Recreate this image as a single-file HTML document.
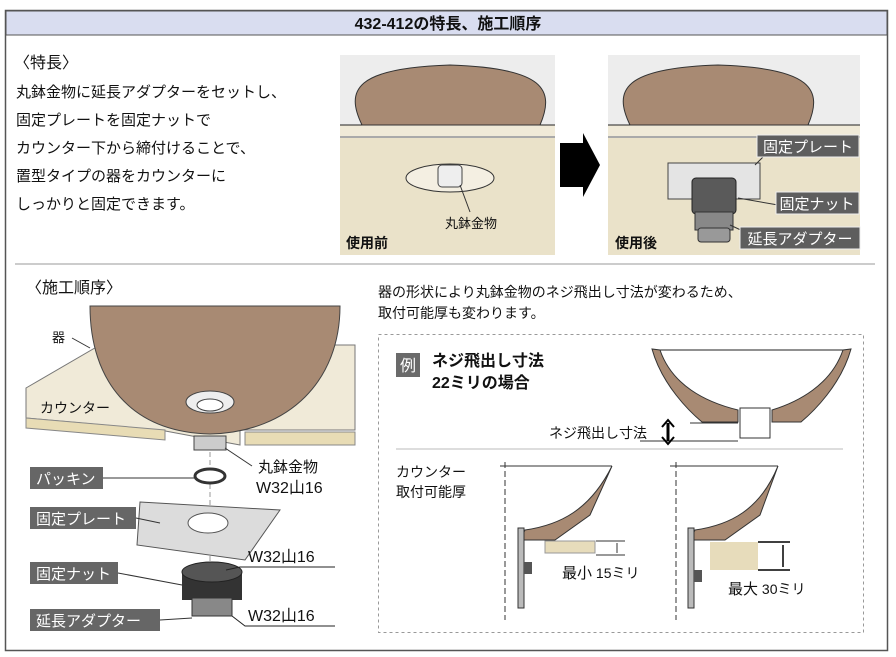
<!DOCTYPE html>
<html><head><meta charset="utf-8"><style>
html,body{margin:0;padding:0;background:#fff}
svg{display:block}
text{font-family:"Liberation Sans","Noto Sans CJK JP",sans-serif}
</style></head><body>
<svg width="896" height="657" viewBox="0 0 896 657" xmlns="http://www.w3.org/2000/svg">
<rect x="5.5" y="10.5" width="882" height="640" fill="#fff" stroke="#555" stroke-width="1.5"/>
<rect x="6" y="11" width="881" height="24" fill="#d9ddf0" stroke="#555" stroke-width="1"/>
<text x="448" y="29" font-size="16" font-weight="bold" text-anchor="middle" fill="#111">432-412の特長、施工順序</text>

<g font-size="15" fill="#111">
<text x="14" y="68" font-size="16">〈特長〉</text>
<text x="16" y="97">丸鉢金物に延長アダプターをセットし、</text>
<text x="16" y="125">固定プレートを固定ナットで</text>
<text x="16" y="153">カウンター下から締付けることで、</text>
<text x="16" y="181">置型タイプの器をカウンターに</text>
<text x="16" y="209">しっかりと固定できます。</text>
</g>

<rect x="340" y="55" width="215" height="70" fill="#ededed"/>
<rect x="340" y="125" width="215" height="130" fill="#eae2c9"/>
<rect x="340" y="125" width="215" height="12" fill="#f0ead8"/>
<line x1="340" y1="125" x2="555" y2="125" stroke="#222"/>
<line x1="340" y1="137" x2="555" y2="137" stroke="#aaa" stroke-width="2"/>
<path d="M362 125 C345 90 355 68 450 65 C545 68 555 90 540 125 Z" fill="#a88a73" stroke="#333"/>
<ellipse cx="450" cy="178" rx="44" ry="14" fill="#f4efe2" stroke="#333"/>
<rect x="438" y="165" width="24" height="22" rx="4" fill="#eee" stroke="#444"/>
<path d="M460 185 L470 212" stroke="#333" fill="none"/>
<text x="445" y="228" font-size="13" fill="#111">丸鉢金物</text>
<text x="346" y="248" font-size="14" font-weight="bold" fill="#111">使用前</text>

<path d="M560 143 L583 143 L583 133 L600 165 L583 197 L583 187 L560 187 Z" fill="#000"/>

<rect x="608" y="55" width="252" height="70" fill="#ededed"/>
<rect x="608" y="125" width="252" height="130" fill="#eae2c9"/>
<rect x="608" y="125" width="252" height="12" fill="#f0ead8"/>
<line x1="608" y1="125" x2="860" y2="125" stroke="#222"/>
<line x1="608" y1="137" x2="860" y2="137" stroke="#aaa" stroke-width="2"/>
<path d="M630 125 C613 90 623 68 718 65 C813 68 823 90 808 125 Z" fill="#a88a73" stroke="#333"/>
<rect x="668" y="163" width="92" height="36" fill="#e4e4e4" stroke="#444"/>
<rect x="692" y="178" width="44" height="36" rx="4" fill="#5a5a5a" stroke="#222"/>
<rect x="695" y="212" width="38" height="18" fill="#888" stroke="#333"/>
<rect x="698" y="228" width="32" height="14" rx="3" fill="#999" stroke="#333"/>
<path d="M755 165 L770 150 M738 198 L778 205 M730 225 L745 232" stroke="#333" fill="none"/>
<rect x="757" y="135" width="102" height="22" fill="#5e5e5e" stroke="#eee"/>
<text x="808" y="152" font-size="15" fill="#fff" text-anchor="middle">固定プレート</text>
<rect x="776" y="192" width="83" height="22" fill="#5e5e5e" stroke="#eee"/>
<text x="817" y="209" font-size="15" fill="#fff" text-anchor="middle">固定ナット</text>
<rect x="740" y="227" width="120" height="22" fill="#5e5e5e" stroke="#eee"/>
<text x="800" y="244" font-size="15" fill="#fff" text-anchor="middle">延長アダプター</text>
<text x="615" y="248" font-size="14" font-weight="bold" fill="#111">使用後</text>

<line x1="15" y1="264" x2="875" y2="264" stroke="#bbb" stroke-width="1.5"/>

<text x="26" y="293" font-size="16" fill="#111">〈施工順序〉</text>
<path d="M26 388 L100 345 L355 345 L355 430 L240 430 L240 445 L160 430 L26 418 Z" fill="#f0ead8" stroke="#777"/>
<path d="M26 418 L165 430 L165 440 L26 428 Z" fill="#e8dcb5" stroke="#888"/>
<path d="M245 432 L355 432 L355 445 L245 445 Z" fill="#e8dcb5" stroke="#888"/>
<path d="M90 306 L340 306 C340 380 290 432 210 434 C130 432 90 380 90 306 Z" fill="#a88a73" stroke="#444"/>
<ellipse cx="210" cy="402" rx="24" ry="11" fill="#eee" stroke="#444"/>
<ellipse cx="210" cy="405" rx="13" ry="6" fill="#fff" stroke="#444"/>
<rect x="194" y="436" width="32" height="14" fill="#ccc" stroke="#444"/>
<text x="52" y="342" font-size="13" fill="#111">器</text>
<path d="M72 338 L90 348" stroke="#333"/>
<text x="40" y="413" font-size="14" fill="#111">カウンター</text>
<line x1="210" y1="452" x2="210" y2="600" stroke="#999" stroke-dasharray="5,3"/>
<ellipse cx="210" cy="476" rx="15" ry="7" fill="#fff" stroke="#333" stroke-width="3"/>
<path d="M225 448 L252 466" stroke="#333"/>
<text x="258" y="472" font-size="15" fill="#111">丸鉢金物</text>
<text x="256" y="493" font-size="16" fill="#111">W32山16</text>
<path d="M140 502 L280 510 L245 560 L137 545 Z" fill="#dcdcdc" stroke="#555"/>
<ellipse cx="208" cy="523" rx="20" ry="10" fill="#fff" stroke="#555"/>
<path d="M182 572 L242 572 L242 600 L182 600 Z" fill="#333"/>
<ellipse cx="212" cy="572" rx="30" ry="10" fill="#555" stroke="#222"/>
<rect x="192" y="598" width="40" height="18" fill="#888" stroke="#333"/>
<path d="M226 570 L240 567 L335 567 M232 616 L245 626 L335 626" stroke="#222" fill="none"/>
<text x="248" y="562" font-size="16" fill="#111">W32山16</text>
<text x="248" y="621" font-size="16" fill="#111">W32山16</text>
<g font-size="15" fill="#fff">
<rect x="30" y="467" width="73" height="22" fill="#666"/><text x="36" y="484">パッキン</text>
<rect x="30" y="507" width="106" height="22" fill="#666"/><text x="36" y="524">固定プレート</text>
<rect x="30" y="562" width="88" height="22" fill="#666"/><text x="36" y="579">固定ナット</text>
<rect x="30" y="609" width="130" height="22" fill="#666"/><text x="36" y="626">延長アダプター</text>
</g>
<path d="M103 478 L195 478 M136 518 L160 523 M118 573 L182 585 M160 620 L192 618" stroke="#333" fill="none"/>

<text x="378" y="297" font-size="14" fill="#111">器の形状により丸鉢金物のネジ飛出し寸法が変わるため、</text>
<text x="378" y="318" font-size="14" fill="#111">取付可能厚も変わります。</text>
<rect x="378.5" y="334.5" width="485" height="298" fill="none" stroke="#999" stroke-dasharray="3,3"/>
<rect x="396" y="353" width="24" height="24" fill="#6a6a6a"/>
<text x="408" y="371" font-size="16" fill="#fff" text-anchor="middle">例</text>
<text x="432" y="366" font-size="16" font-weight="bold" fill="#111">ネジ飛出し寸法</text>
<text x="432" y="388" font-size="16" font-weight="bold" fill="#111">22ミリの場合</text>
<line x1="653" y1="350" x2="850" y2="350" stroke="#222"/>
<path d="M652 349 C662 385 690 412 702 422 L738 422 L738 410 C705 402 672 385 660 350 Z" fill="#a88a73" stroke="#333"/>
<path d="M851 349 C841 385 813 412 801 422 L772 422 L772 410 C798 402 831 385 843 350 Z" fill="#a88a73" stroke="#333"/>
<rect x="740" y="408" width="30" height="30" fill="#fff" stroke="#333"/>
<path d="M690 423 L738 423 M640 441 L738 441" stroke="#333"/>
<text x="549" y="438" font-size="14" fill="#111">ネジ飛出し寸法</text>
<path d="M668 423 L668 441" stroke="#000" stroke-width="3"/>
<path d="M662 427 L668 420 L674 427 M662 437 L668 444 L674 437" stroke="#000" stroke-width="2" fill="none"/>
<line x1="396" y1="449" x2="843" y2="449" stroke="#bbb"/>
<text x="396" y="477" font-size="14" fill="#111">カウンター</text>
<text x="396" y="497" font-size="14" fill="#111">取付可能厚</text>
<line x1="505" y1="462" x2="505" y2="620" stroke="#333" stroke-dasharray="6,3"/>
<line x1="500" y1="466" x2="612" y2="466" stroke="#333"/>
<path d="M612 466 C590 510 560 525 525 530 L520 540 L555 540 L590 515 Z" fill="#a88a73" stroke="#333"/>
<rect x="545" y="541" width="50" height="12" fill="#e7dcbb" stroke="#999"/>
<rect x="518" y="528" width="6" height="80" fill="#bbb" stroke="#333"/>
<rect x="524" y="562" width="8" height="12" fill="#555"/>
<path d="M596 541 L625 541 M596 555 L625 555 M617 543 L617 553" stroke="#333"/>
<text x="562" y="578" font-size="15" fill="#111">最小<tspan font-size="14"> 15ミリ</tspan></text>
<line x1="676" y1="462" x2="676" y2="620" stroke="#333" stroke-dasharray="6,3"/>
<line x1="670" y1="466" x2="778" y2="466" stroke="#333"/>
<path d="M778 466 C760 510 730 525 695 530 L690 540 L725 540 L760 515 Z" fill="#a88a73" stroke="#333"/>
<rect x="710" y="542" width="48" height="28" fill="#e7dcbb"/>
<rect x="688" y="528" width="6" height="80" fill="#bbb" stroke="#333"/>
<rect x="694" y="570" width="8" height="12" fill="#555"/>
<path d="M758 542 L790 542 M758 570 L790 570 M783 545 L783 567" stroke="#000" stroke-width="1.5"/>
<text x="728" y="594" font-size="15" fill="#111">最大<tspan font-size="14"> 30ミリ</tspan></text>
</svg>
</body></html>
